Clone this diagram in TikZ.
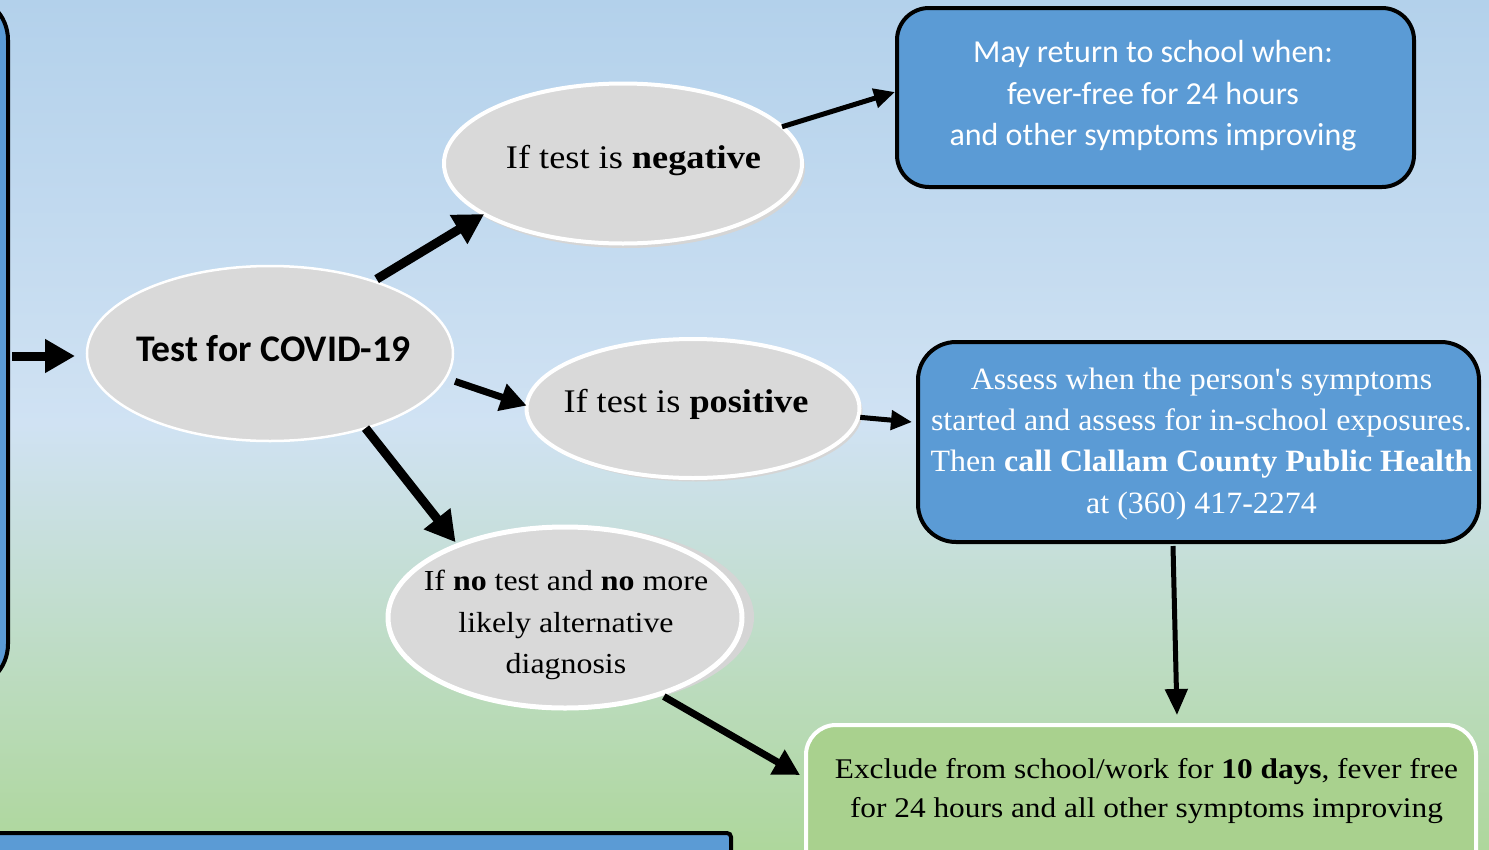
\documentclass[tikz,border=0pt]{standalone}
\usepackage{fontspec}
\setmainfont{Liberation Serif}[FakeStretch=1.1]
\newfontfamily\assessfont{Liberation Serif}[FakeStretch=1.03]
\newfontfamily\calib{Carlito}
\usetikzlibrary{arrows.meta,shapes.geometric,calc}
\definecolor{bgtop}{HTML}{B3D1EB}
\definecolor{bgmid}{HTML}{D0E2F3}
\definecolor{bgbot}{HTML}{AED79C}
\definecolor{boxblue}{HTML}{5B9BD5}
\definecolor{boxgreen}{HTML}{A9D18E}
\definecolor{ellgray}{HTML}{D9D9D9}
\definecolor{shgray}{HTML}{D5D5D5}
\tikzset{
  ellnode/.style={ellipse, draw=white, line width=4pt, fill=ellgray, inner sep=0pt, outer sep=0pt},
  ellshadow/.style={ellipse, fill=shgray, inner sep=0pt, outer sep=0pt},
  bluebox/.style={rectangle, draw=black, line width=4pt, fill=boxblue, inner sep=0pt, outer sep=0pt},
  greenbox/.style={rectangle, draw=white, line width=4pt, fill=boxgreen, inner sep=0pt, outer sep=0pt},
  txt/.style={anchor=base, inner sep=0pt, outer sep=0pt},
  bigarrow/.style={line width=9pt, -{Triangle[length=30pt,width=32pt]}},
  midarrow/.style={line width=7pt, -{Triangle[length=26pt,width=27pt]}},
  thinarrow/.style={line width=5pt, -{Triangle[length=21pt,width=19pt]}},
  downarrow/.style={line width=5pt, -{Triangle[length=26pt,width=22pt]}}
}
\begin{document}
\begin{tikzpicture}[x=1pt,y=-1pt]
\useasboundingbox (0,0) rectangle (1489,849);
\clip (0,0) rectangle (1489,849);
\shade[top color=bgtop, bottom color=bgbot, middle color=bgmid] (0,0) rectangle (1489,849);

% partial boxes at the edges
\node[bluebox, rounded corners=45pt, minimum width=208pt, minimum height=694pt] (leftbox) at (-96,342) {};
\node[bluebox, rounded corners=4pt, minimum width=760pt, minimum height=100pt] (botbox) at (351,883) {};

% boxes
\node[bluebox, rounded corners=32pt, minimum width=517pt, minimum height=179pt] (tr) at (1155.5,97.5) {};
\node[bluebox, rounded corners=38pt, minimum width=561pt, minimum height=200pt] (assess) at (1198.5,442) {};
\node[greenbox, rounded corners=30pt, minimum width=670pt, minimum height=160pt] (excl) at (1141,805) {};

% ellipse shadows
\node[ellshadow, minimum width=358pt, minimum height=160pt] (negsh) at (626,168) {};
\node[ellshadow, minimum width=333pt, minimum height=139pt] (possh) at (696,412) {};
\node[ellshadow, minimum width=354pt, minimum height=181pt] (notestsh) at (577,617) {};

% ellipses
\node[ellnode, line width=2.5pt, minimum width=366pt, minimum height=175pt] (test) at (270,353.5) {};
\node[ellnode, minimum width=358pt, minimum height=160pt] (neg) at (623,163.5) {};
\node[ellnode, minimum width=333pt, minimum height=139pt] (pos) at (693,408.5) {};
\node[ellnode, line width=5pt, minimum width=354pt, minimum height=181pt] (notest) at (565,617.5) {};

% texts
\node[txt, font=\calib\fontsize{37.6}{44}\selectfont\bfseries] (testtxt) at (273.5,361) {Test for COVID-19};
\node[txt, font=\fontsize{33}{40}\selectfont] (negtxt) at (633.5,168) {If test is \textbf{negative}};
\node[txt, font=\fontsize{33}{40}\selectfont] (postxt) at (686,412) {If test is \textbf{positive}};
\node[txt, font=\fontsize{29}{35}\selectfont] (nt1) at (566,590) {If \textbf{no} test and \textbf{no} more};
\node[txt, font=\fontsize{29}{35}\selectfont] (nt2) at (566,632) {likely alternative};
\node[txt, font=\fontsize{29}{35}\selectfont] (nt3) at (566,673) {diagnosis};

\node[txt, text=white, font=\calib\fontsize{32}{38}\selectfont] (tr1) at (1153,62) {May return to school when:};
\node[txt, text=white, font=\calib\fontsize{32}{38}\selectfont] (tr2) at (1153,104) {fever-free for 24 hours};
\node[txt, text=white, font=\calib\fontsize{32}{38}\selectfont] (tr3) at (1153,145) {and other symptoms improving};

\node[txt, text=white, font=\assessfont\fontsize{31}{37}\selectfont] (as1) at (1201.5,389) {Assess when the person\textquotesingle s symptoms};
\node[txt, text=white, font=\assessfont\fontsize{31}{37}\selectfont] (as2) at (1201.5,430) {started and assess for in-school exposures.};
\node[txt, text=white, font=\assessfont\fontsize{31}{37}\selectfont] (as3) at (1201.5,471.5) {Then \textbf{call Clallam County Public Health}};
\node[txt, text=white, font=\assessfont\fontsize{31}{37}\selectfont] (as4) at (1201.5,513) {at (360) 417-2274};

\node[txt, font=\fontsize{28.5}{34}\selectfont] (ex1) at (1146.5,778) {Exclude from school/work for \textbf{10 days}, fever free};
\node[txt, font=\fontsize{28.5}{34}\selectfont] (ex2) at (1146.5,817) {for 24 hours and all other symptoms improving};

% connectors
\draw[bigarrow] ($(leftbox.east)+(4,14)$) -- ($(test.west)+(-12,2.5)$);
\draw[bigarrow, shorten <=4pt] (test.35) -- (neg.200);
\draw[midarrow, shorten <=10pt] (test.-8.5) -- (pos.179);
\draw[bigarrow, shorten >=4pt] (test.-38.6) -- (notest.146);
\draw[midarrow, shorten <=5pt] (notest.-39) -- ($(excl.west)+(-6,-30)$);
\draw[thinarrow] (neg.13) -- ($(tr.west)+(-2,-5.5)$);
\draw[thinarrow, shorten <=2pt] (pos.-3.5) -- ($(assess.west)+(-6,-20)$);
\draw[downarrow] ($(assess.south)+(-25.5,4)$) -- ($(excl.north)+(36,-10)$);
\end{tikzpicture}
\end{document}
